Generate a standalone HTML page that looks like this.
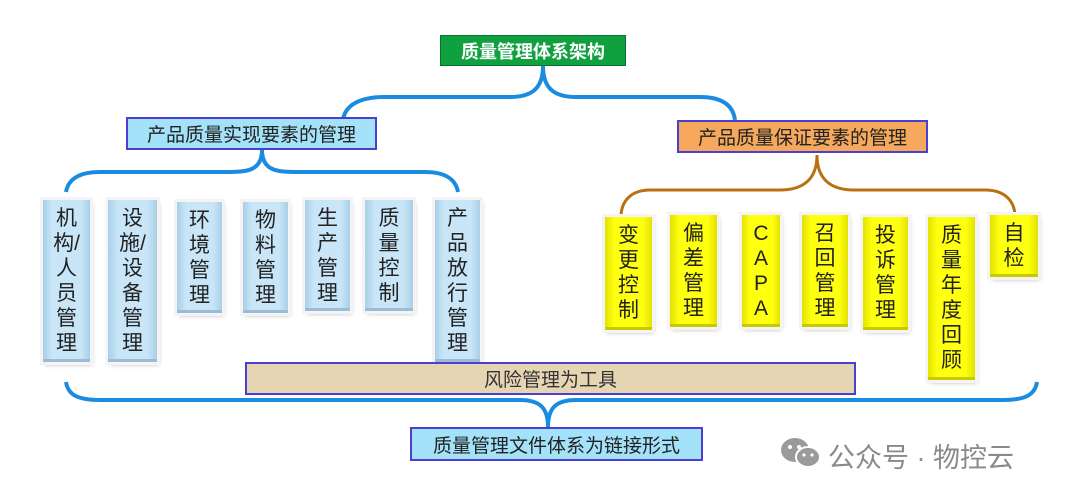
<!DOCTYPE html>
<html><head><meta charset="utf-8"><style>
body{margin:0;width:1080px;height:496px;background:#fff;position:relative;overflow:hidden;font-family:"Liberation Sans","Noto Sans CJK SC",sans-serif}
.b{position:absolute;box-sizing:border-box;display:flex;align-items:center;justify-content:center;color:#222}
.h{border:2px solid #4a3fd0;font-size:19px}
.v{box-sizing:border-box;position:absolute;font-size:21px;line-height:25px;text-align:center;padding-top:6px;color:#222;box-shadow:0 0 0 3px #f4f4f4,2px 3px 4px rgba(0,0,0,.25)}
.lb{background:linear-gradient(90deg,#a9cfe8,#c8e6f8 20%,#c8e6f8 80%,#a9cfe8);border-bottom:3px solid #9bbcd4}
.yb{background:linear-gradient(90deg,#e2e200,#ffff10 20%,#ffff10 80%,#e2e200);border-bottom:3px solid #c9c900}
</style></head><body>
<svg width="1080" height="496" style="position:absolute;left:0;top:0">
<g fill="none" stroke="#1a8ce0" stroke-width="4">
<path d="M543 66 C543 90 530 97 510 97 L385 97 C360 97 345 105 343 120"/>
<path d="M543 66 C543 90 556 97 576 97 L700 97 C722 97 733 105 735 120"/>
<path d="M262 150 C262 172 245 172 225 172 L100 172 C78 172 68 180 66 192"/>
<path d="M262 150 C262 172 279 172 299 172 L425 172 C446 172 456 180 458 192"/>
<path d="M66 382 C68 395 78 400 100 400 L520 400 C540 400 548 408 548 427"/>
<path d="M1037 382 C1035 395 1025 400 1003 400 L576 400 C556 400 548 408 548 427"/>
</g>
<path d="M817 155 C817 182 800 190 780 190 L650 190 C632 190 622 200 621 215 M817 155 C817 182 834 190 854 190 L985 190 C1004 190 1014 200 1015 215" fill="none" stroke="#b87010" stroke-width="3"/>
</svg>
<div class="b" style="left:440px;top:35px;width:186px;height:31px;background:#10a040;color:#fff;font-weight:bold;font-size:18px;border:1px solid #087030">质量管理体系架构</div>
<div class="b h" style="left:126px;top:117px;width:251px;height:33px;background:#a4e2fa">产品质量实现要素的管理</div>
<div class="b h" style="left:677px;top:120px;width:251px;height:33px;background:#f6a85c">产品质量保证要素的管理</div>

<div class="v lb" style="left:43px;top:200px;width:47px;height:162px">机<br>构/<br>人<br>员<br>管<br>理</div>
<div class="v lb" style="left:108px;top:200px;width:49px;height:162px">设<br>施/<br>设<br>备<br>管<br>理</div>
<div class="v lb" style="left:177px;top:202px;width:45px;height:111px">环<br>境<br>管<br>理</div>
<div class="v lb" style="left:243px;top:202px;width:45px;height:111px">物<br>料<br>管<br>理</div>
<div class="v lb" style="left:305px;top:200px;width:45px;height:111px">生<br>产<br>管<br>理</div>
<div class="v lb" style="left:365px;top:200px;width:48px;height:111px">质<br>量<br>控<br>制</div>
<div class="v lb" style="left:435px;top:200px;width:45px;height:162px">产<br>品<br>放<br>行<br>管<br>理</div>

<div class="v yb" style="left:605px;top:217px;width:47px;height:113px">变<br>更<br>控<br>制</div>
<div class="v yb" style="left:670px;top:215px;width:47px;height:112px">偏<br>差<br>管<br>理</div>
<div class="v yb" style="left:742px;top:215px;width:38px;height:112px">C<br>A<br>P<br>A</div>
<div class="v yb" style="left:802px;top:215px;width:46px;height:112px">召<br>回<br>管<br>理</div>
<div class="v yb" style="left:863px;top:217px;width:45px;height:113px">投<br>诉<br>管<br>理</div>
<div class="v yb" style="left:928px;top:217px;width:47px;height:163px">质<br>量<br>年<br>度<br>回<br>顾</div>
<div class="v yb" style="left:990px;top:215px;width:48px;height:62px">自<br>检</div>

<div class="b h" style="left:245px;top:362px;width:611px;height:33px;background:#e6d5b2;color:#333">风险管理为工具</div>
<div class="b h" style="left:410px;top:427px;width:293px;height:34px;background:#a4e2fa">质量管理文件体系为链接形式</div>

<svg width="44" height="34" style="position:absolute;left:779px;top:436px">
<ellipse cx="16" cy="14" rx="14" ry="12" fill="#9a9a9a"/>
<ellipse cx="29" cy="21" rx="12" ry="10" fill="#9a9a9a" stroke="#fff" stroke-width="2"/>
<circle cx="11" cy="11" r="2" fill="#fff"/><circle cx="20" cy="11" r="2" fill="#fff"/>
<circle cx="25" cy="19" r="1.6" fill="#fff"/><circle cx="33" cy="19" r="1.6" fill="#fff"/>
</svg>
<div style="position:absolute;left:828px;top:436px;font-size:27px;color:#8a8a8a;white-space:nowrap">公众号 · 物控云</div>
</body></html>
